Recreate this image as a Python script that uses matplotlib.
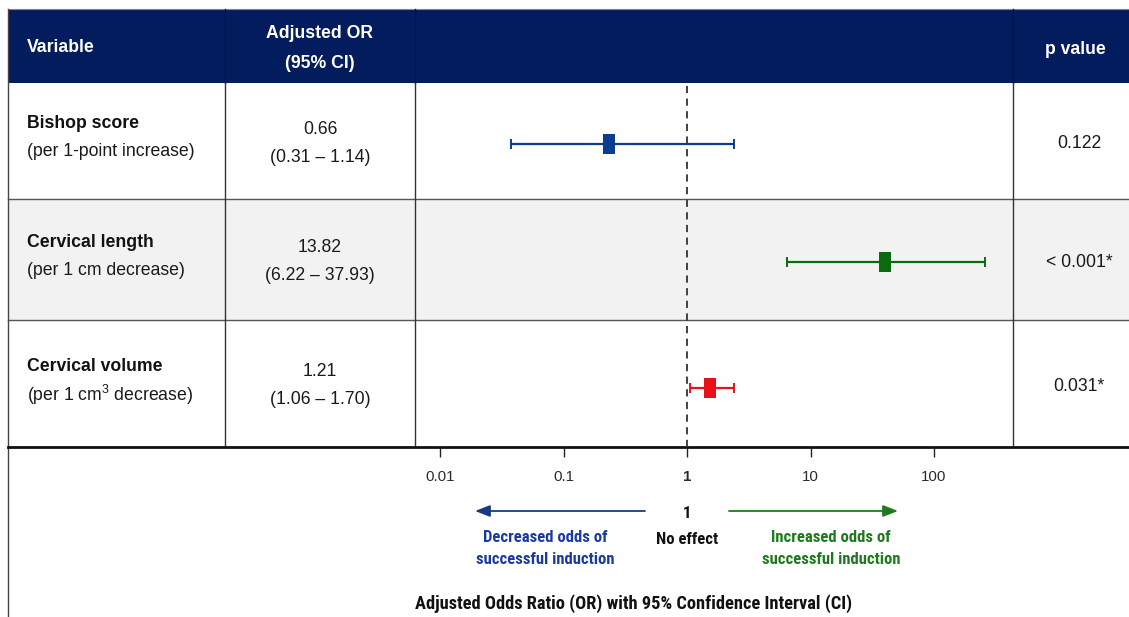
import matplotlib
matplotlib.use("Agg")
import matplotlib.pyplot as plt
from matplotlib import font_manager
from matplotlib.patches import Rectangle
import numpy as np

# ---------------- data ----------------
variables = ["Bishop score", "Cervical length", "Cervical volume"]
units = ["(per 1-point increase)", "(per 1 cm decrease)", "(per 1 cm$^3$ decrease)"]
or_text = ["0.66", "13.82", "1.21"]
ci_text = ["(0.31 – 1.14)", "(6.22 – 37.93)", "(1.06 – 1.70)"]
p_text = ["0.122", "< 0.001*", "0.031*"]
# plotted positions as drawn in the figure
point_est = [0.233, 40.1, 1.535]
ci_low = [0.0376, 6.45, 1.057]
ci_high = [2.40, 259.0, 2.40]
colors = ["#0a3d91", "#0a6a10", "#e8101a"]
tick_vals = [0.01, 0.1, 1, 10, 100]
tick_labels = ["0.01", "0.1", "1", "10", "100"]

# ---------------- fonts ----------------
names = {f.name for f in font_manager.fontManager.ttflist}
TABLE_FONT = "Liberation Sans" if "Liberation Sans" in names else "DejaVu Sans"
for cand in ["Liberation Sans Narrow", "DejaVu Sans Condensed", "Roboto Condensed", "Roboto"]:
    if cand in names:
        NARROW = cand
        break
else:
    NARROW = TABLE_FONT
plt.rcParams["font.family"] = [TABLE_FONT, "DejaVu Sans"]
plt.rcParams["mathtext.fontset"] = "custom"
plt.rcParams["mathtext.rm"] = TABLE_FONT

W, H = 1129, 617
fig = plt.figure(figsize=(W / 100, H / 100), dpi=100)
base = fig.add_axes([0, 0, 1, 1])
base.set_xlim(0, W)
base.set_ylim(H, 0)
base.axis("off")

NAVY = "#031c5e"
TXT = "#1a1a1a"
L, R = 8, W
header_top, header_bot = 9, 83
row_edges = [83, 199, 320, 447]
col_x = [225, 415, 1013]

# header
base.add_patch(Rectangle((L, header_top), R - L, header_bot - header_top,
                         facecolor=NAVY, edgecolor="none", zorder=1))
base.plot([L, R], [header_top, header_top], color="#888888", lw=0.8, zorder=2)
# shaded row 2
base.add_patch(Rectangle((L, row_edges[1]), R - L, row_edges[2] - row_edges[1],
                         facecolor="#f2f2f2", edgecolor="none", zorder=0))
# row separators
for y in row_edges[1:3]:
    base.plot([L, R], [y, y], color="#555555", lw=1.0, zorder=2)
base.plot([L, R], [row_edges[3], row_edges[3]], color="#111111", lw=2.0, zorder=3)
# verticals
for x in col_x:
    base.plot([x, x], [header_top, header_bot], color="#0a1440", lw=1.0, zorder=2)
    base.plot([x, x], [header_bot, row_edges[3]], color="#333333", lw=1.0, zorder=2)
base.plot([L, L], [header_top, H], color="#444444", lw=1.0, zorder=2)

# header texts
FS = 12.7
base.text(27, 47, "Variable", color="white", fontsize=FS, fontweight="bold",
          va="center", ha="left", zorder=4)
base.text(320, 33, "Adjusted OR", color="white", fontsize=FS, fontweight="bold",
          va="center", ha="center", zorder=4)
base.text(320, 63, "(95% CI)", color="white", fontsize=FS, fontweight="bold",
          va="center", ha="center", zorder=4)
base.text(1075, 49, "p value", color="white", fontsize=FS, fontweight="bold",
          va="center", ha="center", zorder=4)

# body texts
for i in range(len(variables)):
    top, bot = row_edges[i], row_edges[i + 1]
    mid = (top + bot) / 2
    base.text(27, mid - 17, variables[i], fontsize=FS, fontweight="bold",
              color="#111111", va="center", ha="left", zorder=4)
    base.text(27, mid + 11, units[i], fontsize=FS, color=TXT,
              va="center", ha="left", zorder=4)
    base.text(320, mid - 12, or_text[i], fontsize=FS, color=TXT,
              va="center", ha="center", zorder=4)
    base.text(320, mid + 16, ci_text[i], fontsize=FS, color=TXT,
              va="center", ha="center", zorder=4)
    base.text(1079, mid + 3, p_text[i], fontsize=FS, color=TXT,
              va="center", ha="center", zorder=4)

# ---------------- forest axes ----------------
X1 = 687.0      # pixel of OR = 1
PPD = 123.5     # pixels per decade
px0, px1 = col_x[1], col_x[2]
fa = fig.add_axes([px0 / W, 1 - row_edges[3] / H, (px1 - px0) / W,
                   (row_edges[3] - row_edges[0]) / H])
fa.set_facecolor("none")
fa.set_xscale("log")
fa.set_xlim(10 ** ((px0 - X1) / PPD), 10 ** ((px1 - X1) / PPD))
fa.set_ylim(row_edges[3], row_edges[0])
for s in fa.spines.values():
    s.set_visible(False)
fa.set_yticks([])
fa.set_xticks(tick_vals)
fa.set_xticklabels(tick_labels)
fa.minorticks_off()
fa.tick_params(axis="x", direction="out", length=7, width=1.0, color="#222222",
               pad=9.5, labelsize=10.8, labelcolor="#2a2a2a")
for lab in fa.get_xticklabels():
    if lab.get_text() == "1":
        lab.set_fontweight("bold")
fa.axvline(1, color="#333333", lw=1.3, ls=(0, (4, 3)), zorder=1)

marker_rect = [(-0.6, -1), (0.6, -1), (0.6, 1), (-0.6, 1), (-0.6, -1)]
row_y = [143.5, 262, 388]
for i in range(len(variables)):
    y = row_y[i]
    fa.errorbar(point_est[i], y,
                xerr=[[point_est[i] - ci_low[i]], [ci_high[i] - point_est[i]]],
                fmt="none", ecolor=colors[i], elinewidth=1.6, capsize=3.6,
                capthick=1.4, zorder=3)
    fa.plot(point_est[i], y, marker=marker_rect, markersize=14.5, color=colors[i],
            markeredgewidth=0, zorder=4, linestyle="none")

# ---------------- explanation below axis ----------------
BLUE_T = "#1a3aa0"
GREEN_T = "#1e7a1e"
base.annotate("", xy=(475, 511), xytext=(645, 511),
              arrowprops=dict(arrowstyle="-|>,head_length=0.9,head_width=0.35",
                              color="#1a3a80", lw=1.3, shrinkA=0, shrinkB=0))
base.annotate("", xy=(898, 511), xytext=(729, 511),
              arrowprops=dict(arrowstyle="-|>,head_length=0.9,head_width=0.35",
                              color="#1e7a1e", lw=1.3, shrinkA=0, shrinkB=0))
NFS = 12
base.text(687, 513, "1", family=[NARROW, "DejaVu Sans"], fontsize=NFS,
          fontweight="bold", ha="center", va="center", color="#111111")
base.text(687, 540, "No effect", family=[NARROW, "DejaVu Sans"], fontsize=NFS,
          fontweight="bold", ha="center", va="center", color="#111111")
base.text(545, 537, "Decreased odds of", family=[NARROW, "DejaVu Sans"],
          fontsize=NFS, fontweight="bold", ha="center", va="center", color=BLUE_T)
base.text(545, 560, "successful induction", family=[NARROW, "DejaVu Sans"],
          fontsize=NFS, fontweight="bold", ha="center", va="center", color=BLUE_T)
base.text(831, 537, "Increased odds of", family=[NARROW, "DejaVu Sans"],
          fontsize=NFS, fontweight="bold", ha="center", va="center", color=GREEN_T)
base.text(831, 560, "successful induction", family=[NARROW, "DejaVu Sans"],
          fontsize=NFS, fontweight="bold", ha="center", va="center", color=GREEN_T)
base.text(634, 604, "Adjusted Odds Ratio (OR) with 95% Confidence Interval (CI)",
          family=[NARROW, "DejaVu Sans"], fontsize=13.2, fontweight="bold",
          ha="center", va="center", color="#111111")

fig.savefig("out.png", dpi=100)
